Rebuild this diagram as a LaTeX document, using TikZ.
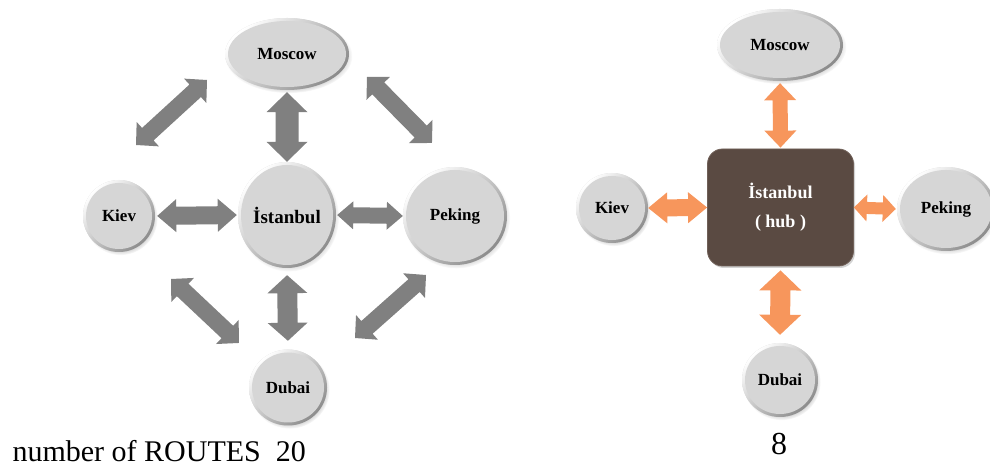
\documentclass[tikz,border=0pt]{standalone}
\usepackage{fontspec}
\setmainfont{Liberation Serif}
\usetikzlibrary{shapes.geometric,shadows,calc}

\definecolor{ballgray}{RGB}{214,214,214}
\definecolor{rimdark}{RGB}{140,140,140}
\definecolor{arrowgray}{RGB}{128,128,128}
\definecolor{routeorange}{RGB}{247,150,92}
\definecolor{hubbrown}{RGB}{90,74,66}
\definecolor{hubrim}{RGB}{112,96,88}

\newcommand{\cityfont}{\bfseries\fontsize{17}{20}\selectfont}
\newcommand{\bigcityfont}{\bfseries\fontsize{19}{22}\selectfont}
\newcommand{\hubfont}{\bfseries\fontsize{18}{21}\selectfont}

% block double arrow between two points:
% #1 style, #2 from, #3 to, #4 shaft width, #5 head width, #6 head length,
% #7 gap at start, #8 gap at end
\newcommand{\blockarrow}[8]{%
  \fill[#1] let \p1=($(#3)-(#2)$), \n1={veclen(\x1,\y1)}, \n2={atan2(\y1,\x1)} in
    [shift={(#2)}, rotate=\n2]
    (#7,0) -- (#7+#6,#5/2) -- (#7+#6,#4/2) -- (\n1-#8-#6,#4/2) -- (\n1-#8-#6,#5/2)
    -- (\n1-#8,0) -- (\n1-#8-#6,-#5/2) -- (\n1-#8-#6,-#4/2) -- (#7+#6,-#4/2)
    -- (#7+#6,-#5/2) -- cycle;
}

\tikzset{
  % bevelled grey city disc
  ball/.style 2 args={ellipse, inner sep=0pt, minimum width=#1, minimum height=#2,
    fill=ballgray, font=\cityfont,
    circular drop shadow={shadow xshift=1.5pt, shadow yshift=-2pt, shadow scale=1.03, opacity=0.4},
    path picture={
      \shade[top color=white, bottom color=rimdark, shading angle=45]
        (path picture bounding box.south west) rectangle (path picture bounding box.north east);
      \fill[ballgray] (path picture bounding box.center)
        ellipse [x radius=#1/2-3pt, y radius=#2/2-3pt];
    }},
  grayroute/.style={fill=arrowgray},
  hubroute/.style={fill=routeorange},
}

\begin{document}
\begin{tikzpicture}[x=1pt,y=1pt]
\useasboundingbox (0,0) rectangle (990,468);

% ---------- point-to-point network ----------
\node[ball={124pt}{72pt}]  (mosL) at (287,414) {Moscow};
\node[ball={72pt}{72pt}]   (kievL) at (119,252) {Kiev};
\node[ball={98pt}{106pt}, font=\bigcityfont] (istL) at (287,253) {İstanbul};
\node[ball={104pt}{98pt}]  (pekL) at (455,252) {Peking};
\node[ball={78pt}{76pt}]   (dubL) at (288,80.5) {Dubai};

\coordinate (mk1) at (207,388); \coordinate (mk2) at (136,323);
\coordinate (mp1) at (367,391); \coordinate (mp2) at (432,325);
\coordinate (kd1) at (171,189); \coordinate (kd2) at (239,125);
\coordinate (pd1) at (426,193); \coordinate (pd2) at (355,130);

\blockarrow{grayroute}{istL.north}{mosL.south}{23}{41}{20}{0}{2}
\blockarrow{grayroute}{kievL.east}{istL.west}{18}{33}{19}{2}{1}
\blockarrow{grayroute}{istL.east}{pekL.west}{16}{28}{16}{1}{0}
\blockarrow{grayroute}{istL.south}{dubL.north}{20}{40}{18}{7}{8.5}
\blockarrow{grayroute}{mk1}{mk2}{17}{33}{16}{0}{0}
\blockarrow{grayroute}{mp1}{mp2}{17}{33}{16}{0}{0}
\blockarrow{grayroute}{kd1}{kd2}{17}{33}{16}{0}{0}
\blockarrow{grayroute}{pd1}{pd2}{17}{33}{16}{0}{0}

\node[anchor=base west, font=\fontsize{30}{34}\selectfont] (routesL) at (9,6)
  {number of ROUTES\hspace{15pt}20};

% ---------- hub network ----------
\node[ball={126pt}{72pt}] (mosR) at (780,423) {Moscow};
\node[ball={72pt}{70pt}]  (kievR) at (612,260) {Kiev};
\node[ball={98pt}{84pt}]  (pekR) at (946,259) {Peking};
\node[ball={76pt}{74pt}]  (dubR) at (780,88) {Dubai};
\node[rounded corners=15pt, fill=hubbrown, draw=hubrim, line width=0.8pt,
  minimum width=146pt, minimum height=117pt, inner sep=0pt,
  drop shadow={shadow xshift=1.5pt, shadow yshift=-2pt, opacity=0.35},
  text=white, font=\hubfont, align=center]
  (hub) at (780.5,260.5) {İstanbul\\[8pt]( hub )};

\blockarrow{hubroute}{mosR.south}{hub.north}{15}{32}{17}{2}{1}
\blockarrow{hubroute}{kievR.east}{hub.west}{17}{31}{19}{0}{0}
\blockarrow{hubroute}{hub.east}{pekR.west}{12}{27}{13}{0}{1}
\blockarrow{hubroute}{hub.south}{dubR.north}{20}{42}{20}{4}{8}

\node[anchor=base, font=\fontsize{32}{36}\selectfont] (routesR) at (779,13) {8};
\end{tikzpicture}
\end{document}
